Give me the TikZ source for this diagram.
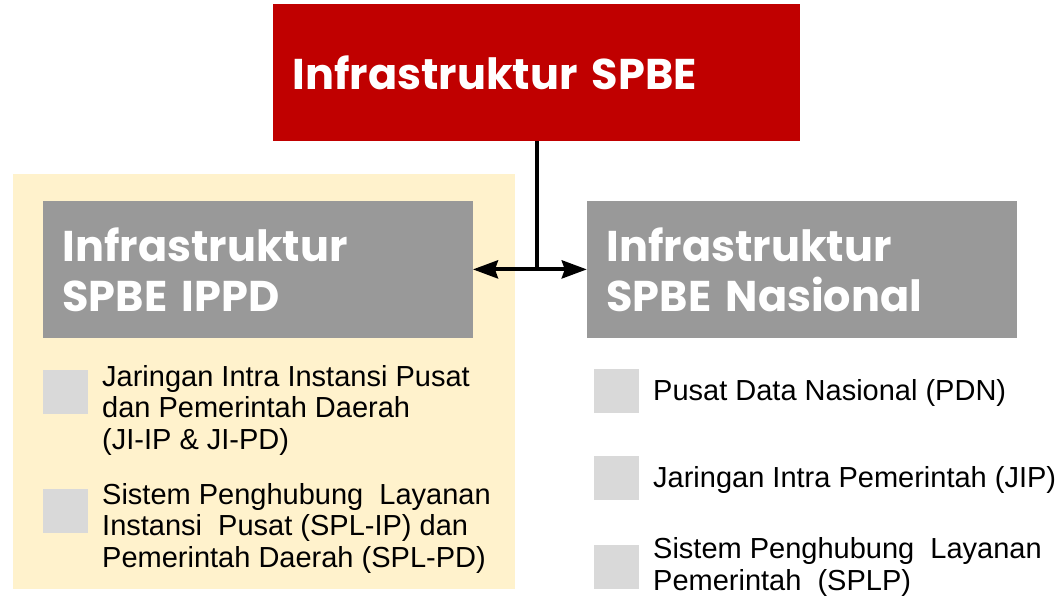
\documentclass[tikz,border=0pt]{standalone}
\usepackage{fontspec}
\setmainfont{Liberation Sans}
\newfontfamily\headfont{Poppins}
\usetikzlibrary{arrows.meta,positioning}

\definecolor{spbered}{HTML}{C00000}
\definecolor{ippdpanel}{HTML}{FFF2CC}
\definecolor{headgrey}{HTML}{999999}
\definecolor{itemgrey}{HTML}{D9D9D9}

\tikzset{
  headbox/.style={rectangle, fill=#1, text=white, align=left,
    font=\headfont\bfseries\fontsize{43}{50}\selectfont,
    inner xsep=19.5pt, inner ysep=0pt, minimum height=136.7pt},
  itembox/.style={rectangle, fill=itemgrey, inner sep=0pt,
    minimum width=45pt, minimum height=44pt},
  itemtext/.style={anchor=base west, align=left, inner sep=0pt,
    font=\fontsize{29}{31.5}\selectfont},
  linkline/.style={line width=4pt},
}

\begin{document}
\begin{tikzpicture}[x=1pt, y=-1pt]
  \useasboundingbox (0,0) rectangle (1061,597);
  \fill[ippdpanel] (12.7,174) rectangle (515,589);

  \node[headbox=spbered, text width=488pt] (spbe) at (536.5,72.4) {Infrastruktur SPBE};
  \node[headbox=headgrey, text width=390.7pt] (ippd) at (257.9,269.4) {Infrastruktur\\SPBE IPPD};
  \node[headbox=headgrey, text width=391pt] (nasional) at (802,269.4) {Infrastruktur\\SPBE Nasional};

  % items IPPD (text placed by its last line)
  \node[itembox] (jiippd) at (65.5,392) {};
  \node[itemtext] (jiippdtext) at (102,449) {Jaringan Intra Instansi Pusat\\dan Pemerintah Daerah\\(JI-IP \& JI-PD)};
  \node[itembox] (splippd) at (65.5,511) {};
  \node[itemtext] (splippdtext) at (102,567) {Sistem Penghubung\ \ Layanan\\Instansi\ \ Pusat (SPL-IP) dan\\Pemerintah Daerah (SPL-PD)};

  % items nasional
  \node[itembox] (pdn) at (616.5,391) {};
  \node[itemtext] (pdntext) at (653,400) {Pusat Data Nasional (PDN)};
  \node[itembox] (jip) at (616.5,478.3) {};
  \node[itemtext] (jiptext) at (653,487) {Jaringan Intra Pemerintah (JIP)};
  \node[itembox] (splp) at (616.5,566.5) {};
  \node[itemtext] (splptext) at (653,590) {Sistem Penghubung\ \ Layanan\\Pemerintah\ \ (SPLP)};

  \begin{scope}[linkline]
    \draw (spbe.south) -- (spbe.south |- ippd.east) coordinate (fork);
    \draw[{Stealth[length=25pt,width=18pt,inset=3pt]}-{Stealth[length=25pt,width=18pt,inset=3pt]}] (ippd.east) -- (nasional.west);
  \end{scope}
\end{tikzpicture}
\end{document}
